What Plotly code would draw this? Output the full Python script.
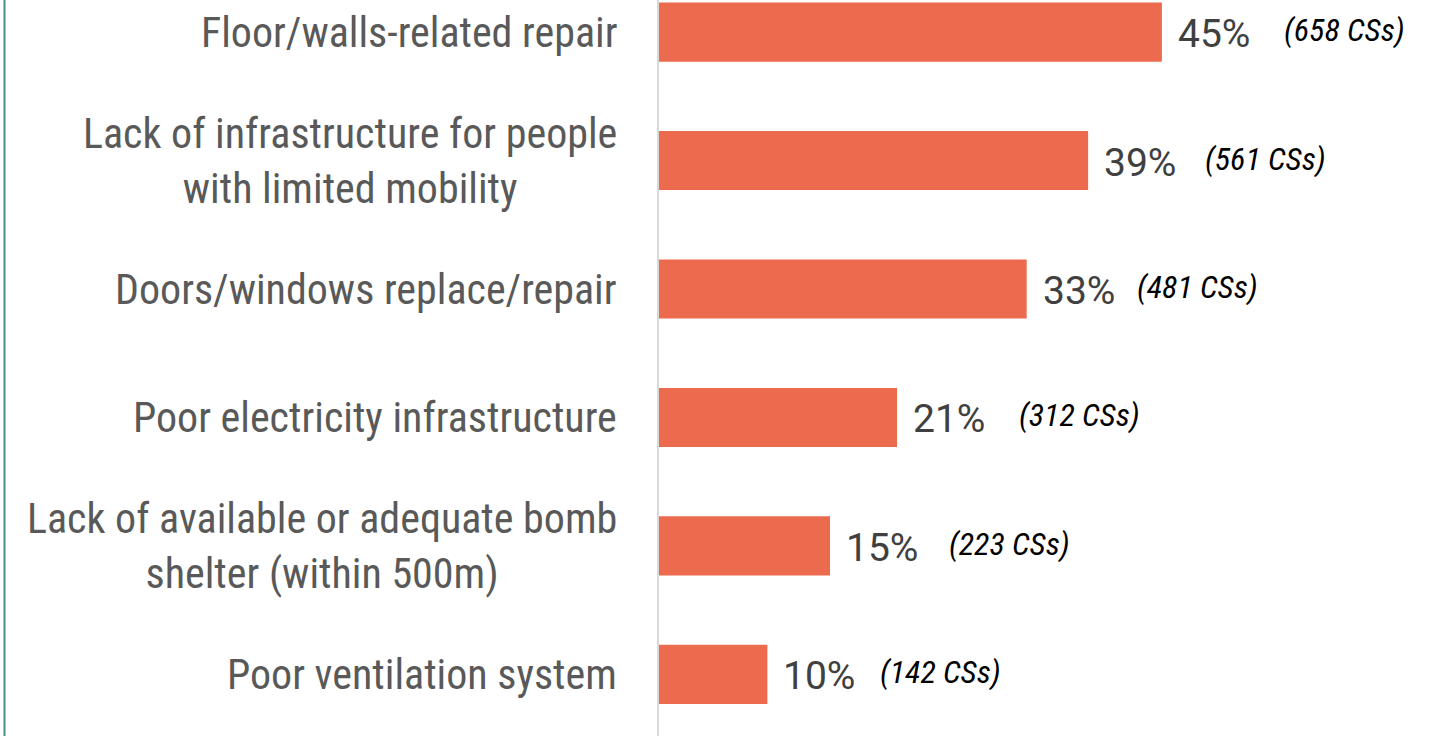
import plotly.graph_objects as go

categories = [
    "Floor/walls-related repair",
    "Lack of infrastructure for people<br>with limited mobility",
    "Doors/windows replace/repair",
    "Poor electricity infrastructure",
    "Lack of available or adequate bomb<br>shelter (within 500m)",
    "Poor ventilation system",
]
values = [45.0, 38.4, 32.9, 21.3, 15.3, 9.7]
pct_labels = ["45%", "39%", "33%", "21%", "15%", "10%"]
count_labels = ["(658 CSs)", "(561 CSs)", "(481 CSs)", "(312 CSs)", "(223 CSs)", "(142 CSs)"]

# styling: pixel gap from bar end to the count label (as placed in the original)
count_shift_px = [120, 115, 108, 120, 117, 111]

COND = "Roboto Condensed, Liberation Sans Narrow, DejaVu Sans Condensed, Roboto"
idx = list(range(len(categories)))

W, H = 1429, 736
ML = 659
plot_w = W - ML

fig = go.Figure(go.Bar(
    x=values, y=idx, orientation="h",
    marker=dict(color="#EC6B4E", line=dict(width=0)),
    width=0.46, hoverinfo="skip",
))

ann = []
for i, (c, v, p, n) in enumerate(zip(categories, values, pct_labels, count_labels)):
    ann.append(dict(x=0, y=i, xref="x", yref="y", text=c, showarrow=False,
                    xanchor="right", yanchor="middle", align="center", xshift=-40,
                    font=dict(family=COND, size=42, color="#595959")))
    ann.append(dict(x=v, y=i, xref="x", yref="y", text=p, showarrow=False,
                    xanchor="left", yanchor="middle", xshift=14, yshift=-2,
                    font=dict(family="Roboto", size=39, color="#404040")))
    ann.append(dict(x=v, y=i, xref="x", yref="y", text="<i>" + n + "</i>", showarrow=False,
                    xanchor="left", yanchor="middle", xshift=count_shift_px[i], yshift=2,
                    font=dict(family=COND, size=32, color="#000000")))

bx = -(ML - 4.5) / plot_w

fig.update_layout(
    width=W, height=H,
    margin=dict(l=ML, r=0, t=0, b=0),
    paper_bgcolor="white", plot_bgcolor="white",
    showlegend=False,
    annotations=ann,
    xaxis=dict(range=[0, 68.9], showgrid=False, zeroline=False, showticklabels=False,
               showline=False, fixedrange=True),
    yaxis=dict(range=[5.48, -0.25], showgrid=False, zeroline=False, showticklabels=False,
               showline=True, linecolor="#d9d9d9", linewidth=2, fixedrange=True),
    shapes=[dict(type="line", xref="paper", yref="paper", x0=bx, x1=bx, y0=0, y1=1,
                 line=dict(color="#4a8c84", width=2))],
)

fig.write_html("out.html", config={"displayModeBar": False},
               post_script="document.body.style.margin='0';document.body.style.overflow='hidden';")
